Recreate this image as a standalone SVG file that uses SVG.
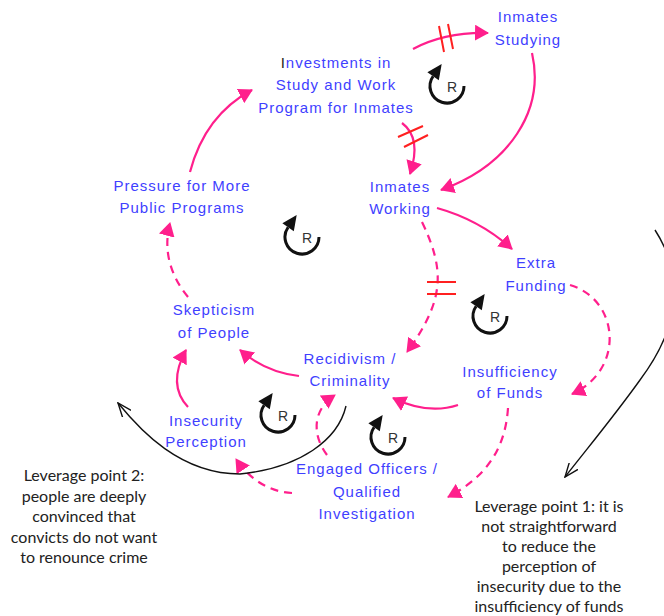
<svg xmlns="http://www.w3.org/2000/svg" xmlns:xlink="http://www.w3.org/1999/xlink" width="664" height="616" viewBox="0 0 664 616">
<style>
.lnk{fill:none;stroke:#ff1f8c;stroke-width:2.2;marker-end:url(#ah)}
.dash{stroke-dasharray:8 6}
.delay{stroke:#ff2020;stroke-width:2;fill:none}
.blk{fill:none;stroke:#111;stroke-width:1.4;marker-end:url(#oh)}
.lbl{font-family:"Liberation Sans",Arial,sans-serif;font-size:15px;fill:#3f3fff;text-anchor:middle;letter-spacing:1px}
.note{font-family:Lato,"Liberation Sans",sans-serif;font-size:16px;fill:#222;text-anchor:middle}
</style>
<defs>
<marker id="ah" markerUnits="userSpaceOnUse" markerWidth="14" markerHeight="16" viewBox="0 0 14 16" refX="13" refY="8" orient="auto"><path d="M0,0 L14,8 L0,16 z" fill="#ff1f8c"/></marker>
<marker id="oh" markerUnits="userSpaceOnUse" markerWidth="15" markerHeight="12" viewBox="0 0 15 12" refX="14" refY="6" orient="auto"><path d="M0,0.5 L14,6 L0,11.5" fill="none" stroke="#111" stroke-width="1.4"/></marker>
<g id="loopR">
<path d="M-13.9,-9.75 A17,17 0 1 0 17,0" fill="none" stroke="#111" stroke-width="3"/>
<polygon points="-5.3,-22 -19.6,-13.8 -8.2,-5.7" fill="#111"/>
<text x="5" y="6" font-size="14" font-family="Liberation Sans,Arial,sans-serif" fill="#333" text-anchor="middle">R</text>
</g>
</defs>
<rect width="664" height="616" fill="#fff"/>
<g id="connectors">
<path class="lnk" d="M413,49 Q445,32 488,33"/>
<path class="delay" d="M439,26 L444,52 M448,24 L453,49"/>
<path class="lnk" d="M532,53 C545,110 510,165 441,190"/>
<path class="lnk" d="M402,123 Q422,138 410,174"/>
<path class="delay" d="M398,137 L423,126 M404,147 L428,135"/>
<path class="lnk" d="M437,208 Q480,220 512,249"/>
<path class="lnk dash" d="M422,222 C445,270 445,300 407,352"/>
<path class="delay" d="M427,282 L456,282 M427,294 L456,294"/>
<path class="lnk dash" d="M570,285 C620,300 625,370 572,394"/>
<path class="lnk" d="M458,405 Q428,415 393,398"/>
<path class="lnk dash" d="M508,408 C505,455 480,480 448,497"/>
<path class="lnk" d="M299,376 Q265,372 240,350"/>
<path class="lnk" d="M188,407 C172,390 175,370 186,350"/>
<path class="lnk dash" d="M188,297 C170,275 163,250 170,223"/>
<path class="lnk" d="M190,172 Q205,115 252,90"/>
<path class="lnk dash" d="M327,455 C312,435 312,410 335,395"/>
<path class="lnk dash" d="M292,493 C270,492 250,480 236,459"/>
<path class="blk" d="M346,406 C338,440 300,468 240,474 C180,474 140,430 118,403"/>
<path class="blk" d="M655,230 Q700,300 640,380 C615,415 590,445 565,477"/>
</g>
<g id="loops">
<use xlink:href="#loopR" x="447" y="86"/>
<use xlink:href="#loopR" x="302" y="237"/>
<use xlink:href="#loopR" x="490" y="316"/>
<use xlink:href="#loopR" x="278" y="415"/>
<use xlink:href="#loopR" x="388" y="437"/>
</g>
<g id="n-inmates-studying"><text class="lbl" x="528" y="22">Inmates</text><text class="lbl" x="528" y="45">Studying</text></g>
<g id="n-investments"><text class="lbl" x="336" y="68"><tspan fill="#222">I</tspan>nvestments in</text><text class="lbl" x="336" y="90">Study and Work</text><text class="lbl" x="336" y="113">Program for Inmates</text></g>
<g id="n-inmates-working"><text class="lbl" x="400" y="192">Inmates</text><text class="lbl" x="400" y="214">Working</text></g>
<g id="n-pressure"><text class="lbl" x="182" y="191">Pressure for More</text><text class="lbl" x="182" y="213">Public Programs</text></g>
<g id="n-skepticism"><text class="lbl" x="214" y="315">Skepticism</text><text class="lbl" x="214" y="338">of People</text></g>
<g id="n-recidivism"><text class="lbl" x="350" y="364">Recidivism /</text><text class="lbl" x="350" y="386">Criminality</text></g>
<g id="n-extra-funding"><text class="lbl" x="536" y="268">Extra</text><text class="lbl" x="536" y="291">Funding</text></g>
<g id="n-insufficiency"><text class="lbl" x="510" y="377">Insufficiency</text><text class="lbl" x="510" y="398">of Funds</text></g>
<g id="n-insecurity"><text class="lbl" x="206" y="426">Insecurity</text><text class="lbl" x="206" y="447">Perception</text></g>
<g id="n-engaged"><text class="lbl" x="367" y="474">Engaged Officers /</text><text class="lbl" x="367" y="497">Qualified</text><text class="lbl" x="367" y="519">Investigation</text></g>
<g id="note-2"><text class="note" x="84" y="481">Leverage point 2:</text><text class="note" x="84" y="502">people are deeply</text><text class="note" x="84" y="522">convinced that</text><text class="note" x="84" y="543">convicts do not want</text><text class="note" x="84" y="563">to renounce crime</text></g>
<g id="note-1"><text class="note" x="549" y="512">Leverage point 1: it is</text><text class="note" x="549" y="532">not straightforward</text><text class="note" x="549" y="552">to reduce the</text><text class="note" x="549" y="572">perception of</text><text class="note" x="549" y="592">insecurity due to the</text><text class="note" x="549" y="612">insufficiency of funds</text></g>
</svg>
